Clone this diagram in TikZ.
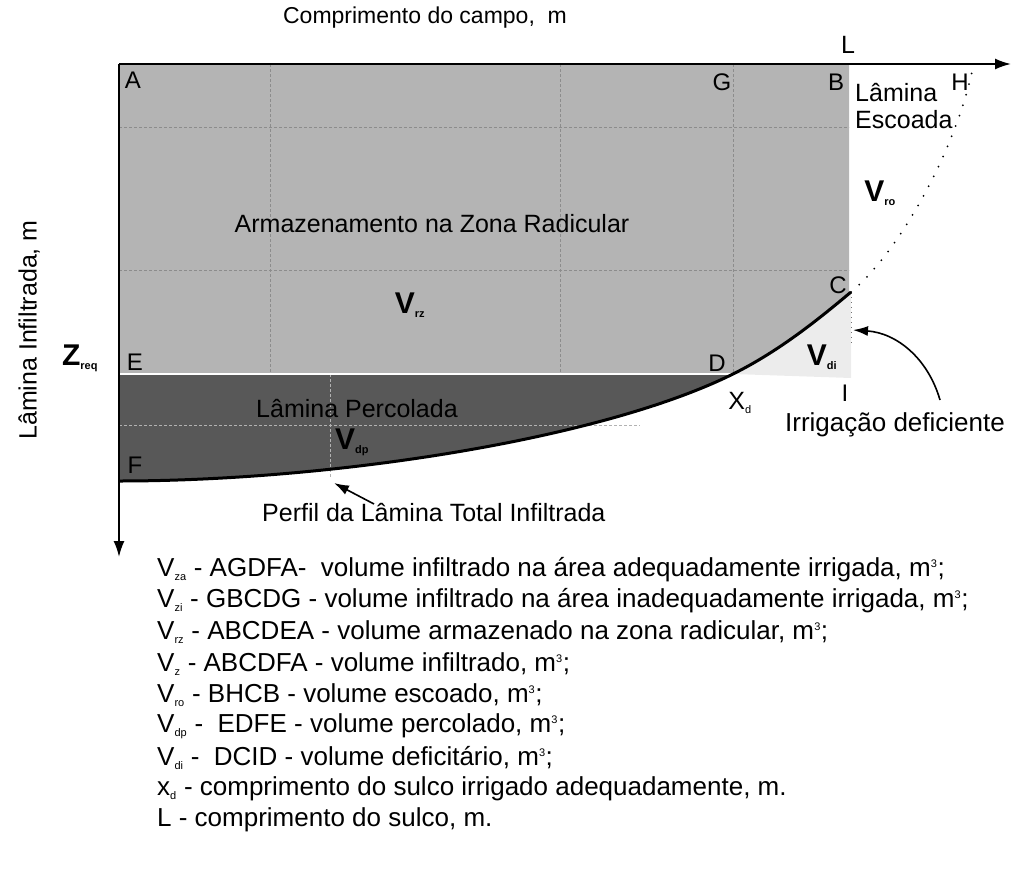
\documentclass[tikz,border=0pt]{standalone}
\usepackage{fontspec}
\setmainfont{Liberation Sans}
\usetikzlibrary{arrows.meta}
\definecolor{zona_clara}{RGB}{180, 180, 180}
\definecolor{zona_escura}{RGB}{88, 88, 88}
\definecolor{zona_def}{RGB}{236, 236, 236}
\tikzstyle{lbl}=[inner sep=0pt,font=\fontsize{25}{29}\selectfont]
\tikzstyle{pto}=[inner sep=0pt,font=\fontsize{24}{28}\selectfont]
\tikzstyle{vol}=[inner sep=0pt,font=\fontsize{30}{34}\selectfont\bfseries]
\tikzstyle{leg}=[anchor=west,inner sep=0pt,font=\fontsize{26}{30}\selectfont]
\tikzstyle{grade}=[densely dashed,draw=black!45,line width=0.8pt]
\tikzstyle{eixo}=[line width=1.8pt,-{Latex[length=16pt,width=11pt]}]
\tikzstyle{seta}=[line width=1.6pt,-{Latex[length=15pt,width=10pt]}]
\tikzstyle{none}=[]
\newcommand{\vsub}[1]{\textsubscript{\fontsize{11}{11}\selectfont #1}}
\newcommand{\mcub}{m\textsuperscript{\fontsize{11}{11}\selectfont 3}}

\begin{document}
\begin{tikzpicture}[x=1pt,y=-1pt]
		\useasboundingbox (0,0) rectangle (1012,886);
		% pontos do perfil
		\coordinate (A) at (119,64);
		\coordinate (B) at (849,64);
		\coordinate (Cb) at (849,292);
		\coordinate (C) at (851,292);
		\coordinate (D) at (733,374);
		\coordinate (E) at (119,374);
		\coordinate (F) at (119,481);
		\coordinate (H) at (972,72);
		\coordinate (I) at (851,378);
		\coordinate (xfim) at (1011,64);
		\coordinate (zfim) at (119,557);
		% areas
		\fill [zona_clara] (A) -- (B) -- (Cb) -- (C) .. controls (820,318) and (780,350.7) .. (D) -- (E) -- cycle;
		\fill [zona_escura] (E) -- (D) .. controls (600,440) and (330,481) .. (F) -- cycle;
		\fill [zona_def] (D) .. controls (780,350.7) and (820,318) .. (C) -- (I) -- cycle;
		\draw [grade] (119,127) -- (849,127);
		\draw [grade] (119,270) -- (849,270);
		\draw [grade] (270,64) -- (270,374);
		\draw [grade] (560,64) -- (560,374);
		\draw [grade] (733,64) -- (733,374);
		\draw [grade,draw=black!30] (119,425) -- (640,425);
		\draw [grade,draw=black!30] (330,374) -- (330,478);
		\draw [white,line width=2.2pt] (E) -- (D);
		\draw [black!55,dash pattern=on 1pt off 4pt] (C) -- (851,346);
		% perfil da lamina
		\draw [line width=3pt] (F) .. controls (330,481) and (600,440) .. (D) .. controls (780,350.7) and (820,318) .. (C);
		\draw [line width=2pt,line cap=round,dash pattern=on 0pt off 11pt] (C) .. controls (900,251) and (955,150) .. (H);
		% eixos
		\draw [eixo] (A) -- (xfim);
		\draw [eixo] (A) -- (zfim);
		% rotulos
		\node [style=lbl,font=\fontsize{23}{27}\selectfont] (titulo) at (425,18) {Comprimento do campo,\ \ m};
		\node [style=lbl] (L) at (848,45) {L};
		\node [style=lbl,rotate=90] (eixoz) at (29,330) {Lâmina Infiltrada, m};
		\node [style=pto] (nA) at (133,80) {A};
		\node [style=pto] (nG) at (722,82) {G};
		\node [style=pto] (nB) at (836,82) {B};
		\node [style=pto] (nH) at (960,82) {H};
		\node [style=pto] (nC) at (838,285) {C};
		\node [style=pto] (nE) at (135,362) {E};
		\node [style=pto] (nD) at (717,363) {D};
		\node [style=pto] (nF) at (135,465) {F};
		\node [style=pto] (nI) at (845,393) {I};
		\node [style=lbl,anchor=west] (lamesc) at (855,93) {Lâmina};
		\node [style=lbl,anchor=west] (escoada) at (855,120) {Escoada};
		\node [style=vol] (Vro) at (880,193) {V\vsub{ro}};
		\node [style=lbl] (arm) at (432,224) {Armazenamento na Zona Radicular};
		\node [style=vol] (Vrz) at (410,305) {V\vsub{rz}};
		\node [style=vol] (Zreq) at (80,358) {Z\vsub{req}};
		\node [style=vol] (Vdi) at (822,357) {V\vsub{di}};
		\node [style=lbl] (xd) at (740,403) {X\vsub{d}};
		\node [style=lbl,font=\fontsize{26}{30}\selectfont] (irrig) at (895,425) {Irrigação deficiente};
		\node [style=lbl] (perc) at (357,409) {Lâmina Percolada};
		\node [style=vol] (Vdp) at (352,442) {V\vsub{dp}};
		\node [style=lbl,anchor=west] (perfil) at (262,513) {Perfil da Lâmina Total Infiltrada};
		\coordinate (pontaD) at (853,330);
		\coordinate (caudaD) at (940,400);
		\coordinate (pontaP) at (334,483);
		\coordinate (caudaP) at (374,504);
		\draw [seta] (caudaD) to [bend right=35] (pontaD);
		\draw [seta] (caudaP) to (pontaP);
		% legenda
		\node [style=leg] (l1) at (157,570) {V\vsub{za} - AGDFA-\ \ volume infiltrado na área adequadamente irrigada, \mcub;};
		\node [style=leg] (l2) at (157,601) {V\vsub{zi} - GBCDG - volume infiltrado na área inadequadamente irrigada, \mcub;};
		\node [style=leg] (l3) at (157,632) {V\vsub{rz} - ABCDEA - volume armazenado na zona radicular, \mcub;};
		\node [style=leg] (l4) at (157,664) {V\vsub{z} - ABCDFA - volume infiltrado, \mcub;};
		\node [style=leg] (l5) at (157,695) {V\vsub{ro} - BHCB - volume escoado, \mcub;};
		\node [style=leg] (l6) at (157,726) {V\vsub{dp} -\ \ EDFE - volume percolado, \mcub;};
		\node [style=leg] (l7) at (157,758) {V\vsub{di} -\ \ DCID - volume deficitário, \mcub;};
		\node [style=leg] (l8) at (157,789) {x\vsub{d} - comprimento do sulco irrigado adequadamente, m.};
		\node [style=leg] (l9) at (157,820) {L - comprimento do sulco, m.};
\end{tikzpicture}
\end{document}
